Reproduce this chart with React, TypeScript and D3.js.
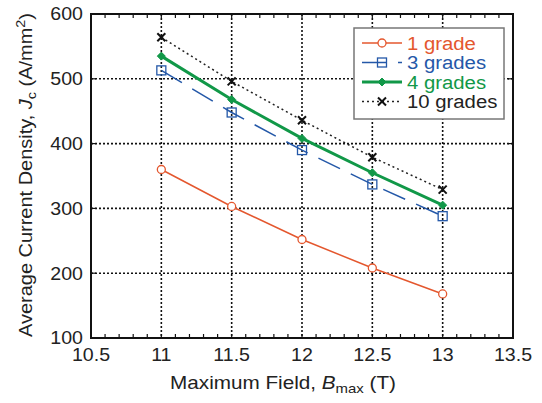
import React, { useEffect, useRef } from "react";
import * as d3 from "d3";

const fields = [11, 11.5, 12, 12.5, 13];
const grade1 = [360, 303, 252, 208, 168];
const grade3 = [513, 448, 390, 337, 288];
const grade4 = [535, 468, 408, 355, 305];
const grade10 = [564, 496, 436, 379, 329];

const xTicks = [10.5, 11, 11.5, 12, 12.5, 13, 13.5];
const yTicks = [100, 200, 300, 400, 500, 600];

const series = [
  { name: "1 grade", values: grade1, color: "#e4572e", width: 1.5, dash: null, marker: "circle" },
  { name: "3 grades", values: grade3, color: "#2458a8", width: 1.5, dash: "24,12", marker: "square" },
  { name: "4 grades", values: grade4, color: "#119848", width: 3, dash: null, marker: "diamond" },
  { name: "10 grades", values: grade10, color: "#222", width: 1.5, dash: "2,3", marker: "cross" },
];

const App = () => {
  const svgRef = useRef<SVGSVGElement>(null);

  useEffect(() => {
    const svg = d3.select(svgRef.current);
    svg.selectAll("*").remove();

    const width = 542,
      height = 403;
    const margin = { top: 14, right: 29, bottom: 65, left: 91 };
    const w = width - margin.left - margin.right;
    const h = height - margin.top - margin.bottom;
    const font = "'Liberation Sans', Arial, Helvetica, sans-serif";
    const sx = 1.12; // the original type is a bit wider than Arial

    svg.attr("width", width).attr("height", height);

    const x = d3.scaleLinear().domain([10.5, 13.5]).range([0, w]);
    const y = d3.scaleLinear().domain([100, 600]).range([h, 0]);

    const g = svg.append("g").attr("transform", `translate(${margin.left},${margin.top})`);

    // grid
    g.selectAll(".vgrid")
      .data(xTicks.slice(1, -1))
      .enter()
      .append("line")
      .attr("x1", (d) => x(d))
      .attr("x2", (d) => x(d))
      .attr("y1", 0)
      .attr("y2", h)
      .attr("stroke", "#111")
      .attr("stroke-width", 1.6)
      .attr("stroke-dasharray", "2,2");
    g.selectAll(".hgrid")
      .data(yTicks.slice(1, -1))
      .enter()
      .append("line")
      .attr("x1", 0)
      .attr("x2", w)
      .attr("y1", (d) => y(d))
      .attr("y2", (d) => y(d))
      .attr("stroke", "#111")
      .attr("stroke-width", 1.6)
      .attr("stroke-dasharray", "2,2");

    // minor ticks on x (top and bottom)
    const minor = d3.range(105, 136).map((v) => v / 10);
    minor.forEach((v) => {
      const len = 4;
      g.append("line").attr("x1", x(v)).attr("x2", x(v)).attr("y1", h).attr("y2", h - len).attr("stroke", "#111").attr("stroke-width", 1.2);
      g.append("line").attr("x1", x(v)).attr("x2", x(v)).attr("y1", 0).attr("y2", len).attr("stroke", "#111").attr("stroke-width", 1.2);
    });
    yTicks.forEach((v) => {
      g.append("line").attr("x1", 0).attr("x2", 5).attr("y1", y(v)).attr("y2", y(v)).attr("stroke", "#111").attr("stroke-width", 1.2);
      g.append("line").attr("x1", w).attr("x2", w - 5).attr("y1", y(v)).attr("y2", y(v)).attr("stroke", "#111").attr("stroke-width", 1.2);
    });

    // frame
    g.append("rect")
      .attr("width", w)
      .attr("height", h)
      .attr("fill", "none")
      .attr("stroke", "#111")
      .attr("stroke-width", 2);

    // tick labels
    g.selectAll(".xl")
      .data(xTicks)
      .enter()
      .append("text")
      .attr("transform", (d) => `translate(${x(d)},${h + 23}) scale(${sx},1)`)
      .attr("text-anchor", "middle")
      .attr("font-family", font)
      .attr("font-size", 17.5)
      .attr("fill", "#222")
      .text((d) => String(d));
    g.selectAll(".yl")
      .data(yTicks)
      .enter()
      .append("text")
      .attr("transform", (d) => `translate(-8,${y(d)}) scale(${sx},1)`)
      .attr("dy", "0.36em")
      .attr("text-anchor", "end")
      .attr("font-family", font)
      .attr("font-size", 17.5)
      .attr("fill", "#222")
      .text((d) => String(d));

    // axis titles
    const xt = svg
      .append("text")
      .attr("transform", `translate(283,389) scale(1.15,1)`)
      .attr("text-anchor", "middle")
      .attr("font-family", font)
      .attr("font-size", 18)
      .attr("fill", "#222");
    xt.append("tspan").text("Maximum Field, ");
    xt.append("tspan").attr("font-style", "italic").text("B");
    xt.append("tspan").attr("font-size", 13).attr("dy", 4).text("max");
    xt.append("tspan").attr("dy", -4).text(" (T)");

    const yt = svg
      .append("text")
      .attr("transform", "translate(32,175) rotate(-90) scale(1.11,1)")
      .attr("text-anchor", "middle")
      .attr("font-family", font)
      .attr("font-size", 18)
      .attr("fill", "#222");
    yt.append("tspan").text("Average Current Density, ");
    yt.append("tspan").attr("font-style", "italic").text("J");
    yt.append("tspan").attr("font-size", 13).attr("dy", 4).text("c");
    yt.append("tspan").attr("dy", -4).text(" (A/mm");
    yt.append("tspan").attr("font-size", 13).attr("dy", -7).text("2");
    yt.append("tspan").attr("dy", 7).text(")");

    const line = d3
      .line<number>()
      .x((d, i) => x(fields[i]))
      .y((d) => y(d));

    const drawMarker = (sel: any, type: string, color: string, cx: number, cy: number) => {
      if (type === "circle") {
        sel.append("circle").attr("cx", cx).attr("cy", cy).attr("r", 4).attr("fill", "white").attr("stroke", color).attr("stroke-width", 1.3);
      } else if (type === "square") {
        sel.append("rect").attr("x", cx - 4.5).attr("y", cy - 4.5).attr("width", 9).attr("height", 9).attr("fill", "none").attr("stroke", color).attr("stroke-width", 1.3);
      } else if (type === "diamond") {
        sel.append("path").attr("d", `M${cx},${cy - 4}L${cx + 4},${cy}L${cx},${cy + 4}L${cx - 4},${cy}Z`).attr("fill", color).attr("stroke", color).attr("stroke-width", 1);
      } else {
        sel.append("path").attr("d", `M${cx - 4},${cy - 4}L${cx + 4},${cy + 4}M${cx - 4},${cy + 4}L${cx + 4},${cy - 4}`).attr("stroke", "#111").attr("stroke-width", 2);
      }
    };

    series.forEach((s) => {
      g.append("path")
        .datum(s.values)
        .attr("d", line)
        .attr("fill", "none")
        .attr("stroke", s.color)
        .attr("stroke-width", s.width)
        .attr("stroke-dasharray", s.dash);
      s.values.forEach((v, i) => drawMarker(g, s.marker, s.color, x(fields[i]), y(v)));
    });

    // legend
    const lg = svg.append("g").attr("transform", "translate(354,28)");
    lg.append("rect").attr("width", 150).attr("height", 91).attr("fill", "white").attr("stroke", "#777").attr("stroke-width", 1.5);
    series.forEach((s, i) => {
      const cy = 15 + i * 19.5;
      lg.append("line")
        .attr("x1", 8)
        .attr("x2", 48)
        .attr("y1", cy)
        .attr("y2", cy)
        .attr("stroke", s.color)
        .attr("stroke-width", s.width)
        .attr("stroke-dasharray", s.dash);
      drawMarker(lg, s.marker, s.color, 28, cy);
      lg.append("text")
        .attr("transform", `translate(53,${cy}) scale(1.07,1)`)
        .attr("dy", "0.36em")
        .attr("font-family", font)
        .attr("font-size", 19)
        .attr("fill", s.color)
        .text(s.name);
    });
  }, []);

  return <svg ref={svgRef} style={{ position: "absolute", left: 0, top: 0, background: "white" }}></svg>;
};

export default App;
